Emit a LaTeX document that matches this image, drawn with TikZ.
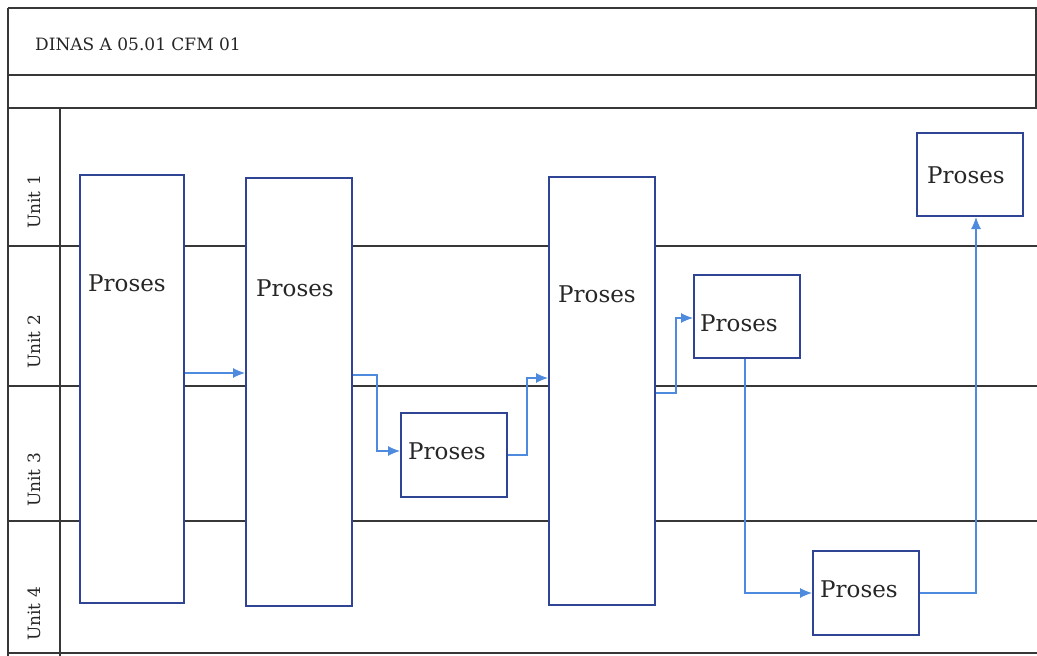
\documentclass[tikz,border=0pt]{standalone}
\usepackage{fontspec}
\setmainfont{DejaVu Serif}
\usetikzlibrary{arrows.meta}
\definecolor{frame}{RGB}{55,55,55}
\definecolor{boxc}{RGB}{48,68,150}
\definecolor{arrc}{RGB}{78,138,222}
\tikzset{
  gridline/.style={draw=frame, line width=1.4pt},
  procbox/.style={draw=boxc, line width=2pt, fill=white, inner sep=0pt},
  ptext/.style={font=\fontsize{23}{26}\selectfont, text=black!85, inner sep=0pt},
  unittext/.style={font=\fontsize{17}{20}\selectfont, text=black!85, rotate=90, inner sep=0pt},
  flow/.style={draw=arrc, line width=1.1pt, -{Latex[length=12pt,width=10pt]}},
}
\begin{document}
\begin{tikzpicture}[x=1pt,y=-1pt]
\useasboundingbox (0,0) rectangle (1037,656);
\fill[white] (0,0) rectangle (1037,656);
% frame
\draw[gridline] (8,8) -- (1037,8);
\draw[gridline] (8,75) -- (1037,75);
\draw[gridline] (8,108) -- (1037,108);
\draw[gridline] (8,8) -- (8,656);
\draw[gridline] (1036,8) -- (1036,108);
\draw[gridline] (60,108) -- (60,656);
\draw[gridline] (8,246) -- (1037,246);
\draw[gridline] (8,386) -- (1037,386);
\draw[gridline] (8,521) -- (1037,521);
\draw[gridline] (8,653) -- (1037,653);
% header
\node[anchor=west, font=\fontsize{17}{20}\selectfont, text=black!85, inner sep=0pt] (title) at (35,44) {DINAS A 05.01 CFM 01};
% unit labels
\node[unittext] (u1) at (34,202) {Unit 1};
\node[unittext] (u2) at (34,342) {Unit 2};
\node[unittext] (u3) at (34,480) {Unit 3};
\node[unittext] (u4) at (34,614) {Unit 4};
% boxes
\node[procbox, minimum width=104pt, minimum height=428pt] (b1) at (132,389) {};
\node[procbox, minimum width=106pt, minimum height=428pt] (b2) at (299,392) {};
\node[procbox, minimum width=106pt, minimum height=84pt] (b3) at (454,455) {};
\node[procbox, minimum width=106pt, minimum height=428pt] (b4) at (602,391) {};
\node[procbox, minimum width=106pt, minimum height=83pt] (b5) at (747,316.5) {};
\node[procbox, minimum width=106pt, minimum height=84pt] (b6) at (866,593) {};
\node[procbox, minimum width=106pt, minimum height=83pt] (b7) at (970,174.5) {};
% texts
\node[ptext] (t1) at (127,283) {Proses};
\node[ptext] (t2) at (295,288) {Proses};
\node[ptext] (t3) at (447,451) {Proses};
\node[ptext] (t4) at (597,294) {Proses};
\node[ptext] (t5) at (739,323) {Proses};
\node[ptext] (t6) at (859,589) {Proses};
\node[ptext] (t7) at (966,175) {Proses};
% connectors
\draw[flow] (b1.east |- 0,373) -- (b2.west |- 0,373);
\draw[flow] (b2.east |- 0,375) -| (377,451) -- (b3.west |- 0,451);
\draw[flow] (b3.east |- 0,455) -| (527,378) -- (b4.west |- 0,378);
\draw[flow] (b4.east |- 0,393) -| (676,318) -- (b5.west |- 0,318);
\draw[flow] (b5.south -| 745,0) |- (b6.west |- 0,593);
\draw[flow] (b6.east |- 0,593) -| (b7.south -| 976,0);
\end{tikzpicture}
\end{document}
